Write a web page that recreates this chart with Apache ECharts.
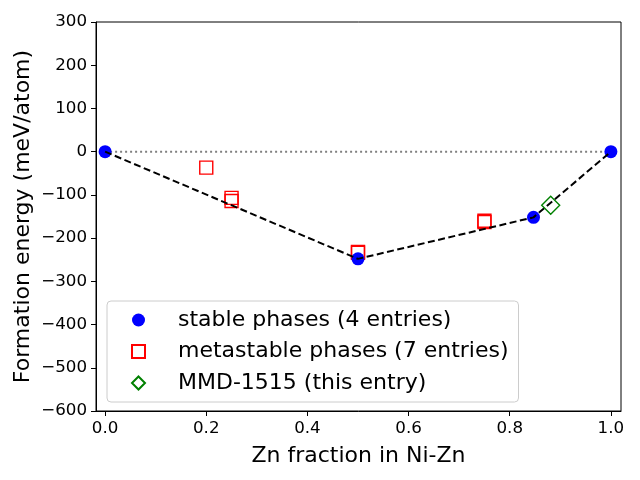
<!DOCTYPE html>
<html>
<head>
<meta charset="utf-8">
<script src="https://cdn.jsdelivr.net/npm/echarts@6/dist/echarts.min.js"></script>
<style>html,body{margin:0;padding:0;background:#fff}#c{width:640px;height:480px}</style>
</head>
<body>
<div id="c"></div>
<script>
const stableX = [0.0, 0.5, 0.847, 1.0];
const stableE = [0, -248, -152, 0];
const metaX = [0.2, 0.25, 0.25, 0.5, 0.5, 0.75, 0.75];
const metaE = [-37, -107, -114, -232, -234, -160, -163];
const entryX = [0.881];
const entryE = [-124];
const xTicks = [0.0, 0.2, 0.4, 0.6, 0.8, 1.0];
const seriesNames = ['stable phases (4 entries)', 'metastable phases (7 entries)', 'MMD-1515 (this entry)'];

const zip = (a, b) => a.map((v, i) => [v, b[i]]);
const font = 'DejaVu Sans';
const chart = echarts.init(document.getElementById('c'));
chart.setOption({
  animation: false,
  grid: { left: 96, right: 19, top: 22, bottom: 69, show: true, borderColor: '#000', borderWidth: 1, backgroundColor: 'transparent' },
  xAxis: {
    type: 'value', min: -0.018, max: 1.02,
    name: 'Zn fraction in Ni-Zn', nameLocation: 'middle', nameGap: 34, nameMoveOverlap: false,
    nameTextStyle: { fontFamily: font, fontSize: 22, color: '#000' },
    axisLine: { show: true, onZero: false, lineStyle: { color: '#000' } },
    axisTick: { show: true, inside: false, length: 5, customValues: xTicks, lineStyle: { color: '#000' } },
    axisLabel: { customValues: xTicks, margin: 9, fontFamily: font, fontSize: 16.7, color: '#000', formatter: v => v.toFixed(1) },
    splitLine: { show: false }
  },
  yAxis: {
    type: 'value', min: -600, max: 300, interval: 100,
    name: 'Formation energy (meV/atom)', nameLocation: 'middle', nameGap: 62, nameMoveOverlap: false,
    nameTextStyle: { fontFamily: font, fontSize: 22, color: '#000' },
    axisLine: { show: true, onZero: false, lineStyle: { color: '#000' } },
    axisTick: { show: true, inside: false, length: 5, lineStyle: { color: '#000' } },
    axisLabel: { margin: 9, fontFamily: font, fontSize: 16.7, color: '#000', formatter: v => v < 0 ? '\u2212' + Math.abs(v) : String(v) },
    splitLine: { show: false }
  },
  legend: {
    orient: 'vertical', left: 107, top: 301,
    padding: [8, 10, 8, 24],
    itemGap: 9.5, itemWidth: 13, itemHeight: 13,
    backgroundColor: 'rgba(255,255,255,0.8)', borderColor: '#cccccc', borderWidth: 1, borderRadius: 4,
    textStyle: { fontFamily: font, fontSize: 22, color: '#000', lineHeight: 22, padding: [0, 0, 0, 28] },
    data: seriesNames
  },
  series: [
    {
      type: 'line', data: [[0, 0], [1, 0]], symbol: 'none', silent: true, z: 1,
      lineStyle: { color: '#808080', width: 2, type: [2, 3] }
    },
    {
      name: seriesNames[1], type: 'scatter', data: zip(metaX, metaE), symbol: 'rect', symbolSize: 13, z: 2,
      itemStyle: { color: 'rgba(255,255,255,0)', borderColor: '#ff0000', borderWidth: 1.4, opacity: 1 }
    },
    {
      name: seriesNames[0], type: 'scatter', data: zip(stableX, stableE), symbol: 'circle', symbolSize: 13, z: 3,
      itemStyle: { color: '#0000ff', opacity: 1 }
    },
    {
      type: 'line', data: zip(stableX, stableE), symbol: 'none', silent: true, z: 4,
      lineStyle: { color: '#000', width: 2, type: [7, 3.5] }
    },
    {
      name: seriesNames[2], type: 'scatter', data: zip(entryX, entryE), symbol: 'diamond', symbolSize: 18, z: 5,
      itemStyle: { color: 'rgba(255,255,255,0)', borderColor: '#008000', borderWidth: 1.4, opacity: 1 }
    }
  ]
});
</script>
</body>
</html>
